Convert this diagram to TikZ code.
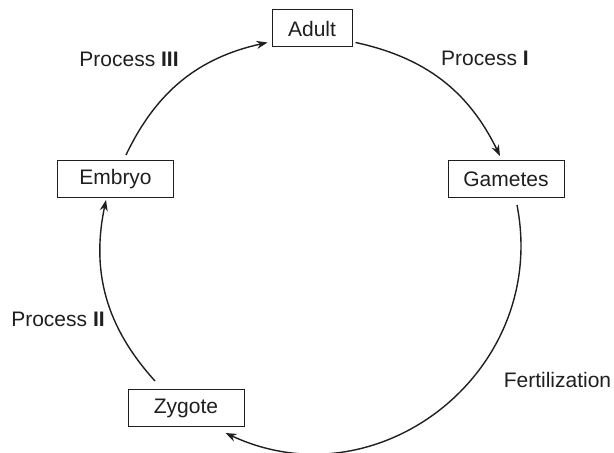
\documentclass[tikz,border=0pt]{standalone}
\usepackage{fontspec}
\setmainfont{Liberation Sans}
\usetikzlibrary{arrows.meta}

\tikzset{
    stage/.style={draw,line width=1pt,minimum height=37pt,minimum width=116pt,inner sep=0pt},
    cyc/.style={-{Stealth[length=11pt,width=8pt]},line width=1.4pt},
    lbl/.style={inner sep=0pt}
}

\begin{document}
\begin{tikzpicture}[x=1pt,y=1pt,font=\fontsize{21}{24}\selectfont,color=black!88]
        \useasboundingbox(0,0)rectangle(614,453);
        % stages of the life cycle
        \node[stage,minimum width=80pt](adult)at(312,424.5){Adult};
        \node[stage](gametes)at(506,274){Gametes};
        \node[stage](embryo)at(115.5,274){Embryo};
        \node[stage](zygote)at(186,45){Zygote};

        % arcs round the cycle
        \draw[cyc]([xshift=3pt,yshift=5pt]adult.south east)to[bend left=26]([xshift=-6pt,yshift=4pt]gametes.north);
        \draw[cyc]([xshift=11pt,yshift=-7pt]gametes.south)to[bend left=63,looseness=1.17]([xshift=-19pt,yshift=-6pt]zygote.south east);
        \draw[cyc]([xshift=-31pt,yshift=8pt]zygote.north)to[bend left=27]([xshift=-9.5pt,yshift=-2pt]embryo.south);
        \draw[cyc]([xshift=10.5pt,yshift=5pt]embryo.north)to[bend left=26]([xshift=-4pt,yshift=5pt]adult.south west);

        \node[lbl](procI)at(485,394.5){Process \textbf{I}};
        \node[lbl](fert)at(557.5,73){Fertilization};
        \node[lbl](procII)at(58,134){Process \textbf{II}};
        \node[lbl](procIII)at(129,394){Process \textbf{III}};
    \end{tikzpicture}
\end{document}
